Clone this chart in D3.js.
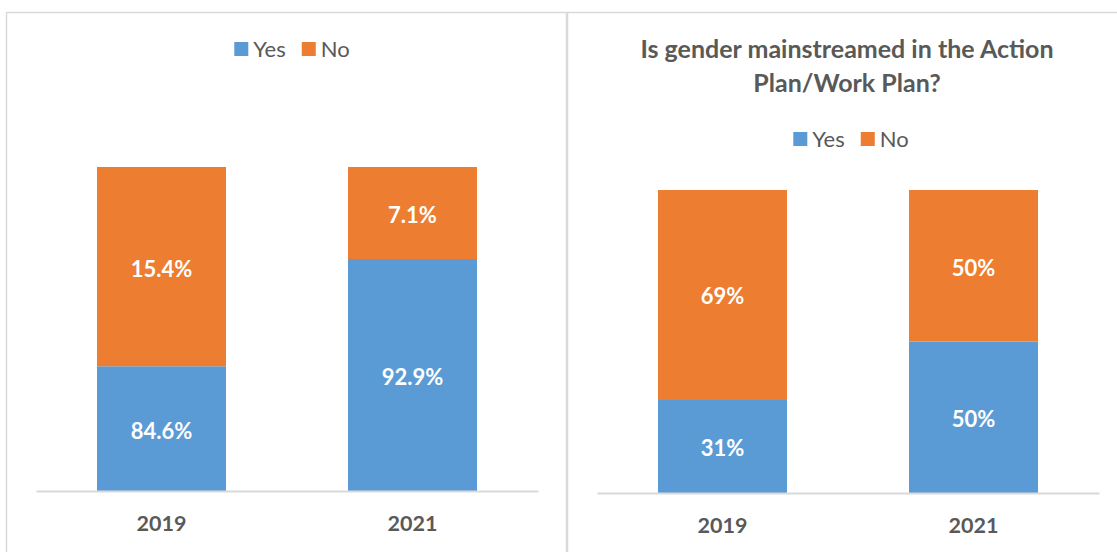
<!DOCTYPE html>
<html>
<head>
<meta charset="utf-8">
<script src="https://cdn.jsdelivr.net/npm/d3@7"></script>
<style>
  body { margin: 0; background: #fff; }
  svg { display: block; font-family: Lato, "Open Sans", sans-serif; }
</style>
</head>
<body>
<div class="container"></div>
<script>
const w = 1117;
const h = 552;

const years = ["2019", "2021"];
const keys = ["Yes", "No"];

// left chart: bar shares as drawn, and the labels printed on them
const leftYes = [38.5, 71.6];
const leftNo = [61.5, 28.4];
const leftYesLabels = ["84.6%", "92.9%"];
const leftNoLabels = ["15.4%", "7.1%"];

// right chart
const rightTitle = ["Is gender mainstreamed in the Action", "Plan/Work Plan?"];
const rightYes = [31, 50];
const rightNo = [69, 50];
const rightYesLabels = ["31%", "50%"];
const rightNoLabels = ["69%", "50%"];

const color = d3.scaleOrdinal().domain(keys).range(["#5B9BD5", "#ED7D31"]);
const grey = "#595959";
const border = "#D9D9D9";

const svg = d3.select('.container').append('svg')
    .attr('width', w)
    .attr('height', h);

// panel frames
svg.append('rect')
    .attr('x', 6.5).attr('y', 12.5)
    .attr('width', 560).attr('height', 600)
    .attr('fill', 'none').attr('stroke', border).attr('stroke-width', 1.5);
svg.append('rect')
    .attr('x', 567.5).attr('y', 12.5)
    .attr('width', 600).attr('height', 600)
    .attr('fill', 'none').attr('stroke', border).attr('stroke-width', 1.5);

drawPanel({
  x0: 36, x1: 538, top: 167, base: 491,
  legendX: 292, legendY: 49, labelY: 523,
  yes: leftYes, no: leftNo, yesLabels: leftYesLabels, noLabels: leftNoLabels
});

drawPanel({
  x0: 597, x1: 1099, top: 190, base: 493,
  legendX: 851, legendY: 139, labelY: 525,
  title: rightTitle, titleX: 847, titleY: 49,
  yes: rightYes, no: rightNo, yesLabels: rightYesLabels, noLabels: rightNoLabels
});

function drawPanel(p) {
  const g = svg.append('g');

  const rows = years.map((yr, i) => ({year: yr, Yes: p.yes[i], No: p.no[i], i: i}));
  const labels = {Yes: p.yesLabels, No: p.noLabels};
  const series = d3.stack().keys(keys)(rows);

  const x = d3.scaleBand()
      .domain(years)
      .range([p.x0, p.x1])
      .paddingInner(0.486)
      .paddingOuter(0.243);

  const y = d3.scaleLinear()
      .domain([0, 100])
      .range([p.base, p.top]);

  const layer = g.selectAll('.layer')
      .data(series)
      .enter().append('g')
      .attr('class', 'layer')
      .attr('fill', d => color(d.key));

  layer.selectAll('rect')
      .data(d => d)
      .enter().append('rect')
      .attr('x', d => x(d.data.year))
      .attr('width', x.bandwidth())
      .attr('y', d => y(d[1]))
      .attr('height', d => y(d[0]) - y(d[1]));

  layer.each(function(s) {
    d3.select(this).selectAll('text')
        .data(s)
        .enter().append('text')
        .attr('x', d => x(d.data.year) + x.bandwidth() / 2)
        .attr('y', d => (y(d[0]) + y(d[1])) / 2)
        .attr('dy', '0.45em')
        .attr('text-anchor', 'middle')
        .attr('fill', '#fff')
        .attr('font-weight', 'bold')
        .attr('font-size', 22)
        .text(d => labels[s.key][d.data.i]);
  });

  // category axis
  const axis = g.append('g')
      .attr('transform', `translate(0, ${p.base})`)
      .call(d3.axisBottom(x).tickSize(0).tickPadding(0));
  axis.select('.domain').attr('stroke', border).attr('stroke-width', 2);
  axis.selectAll('.tick text')
      .attr('y', p.labelY - p.base)
      .attr('dy', '0.38em')
      .attr('fill', grey)
      .attr('font-family', 'Lato, sans-serif')
      .attr('font-weight', 'bold')
      .attr('font-size', 21.5);

  // title
  if (p.title) {
    g.append('text')
        .attr('text-anchor', 'middle')
        .attr('fill', grey)
        .attr('font-weight', 'bold')
        .attr('font-size', 25)
        .selectAll('tspan')
        .data(p.title)
        .enter().append('tspan')
        .attr('x', p.titleX)
        .attr('y', (d, i) => p.titleY + i * 34)
        .attr('dy', '0.36em')
        .text(d => d);
  }

  // legend
  const leg = g.append('g');
  const items = leg.selectAll('g')
      .data(keys)
      .enter().append('g');
  items.append('rect')
      .attr('width', 14).attr('height', 14)
      .attr('y', -7)
      .attr('fill', d => color(d));
  items.append('text')
      .attr('x', 19)
      .attr('dy', '0.36em')
      .attr('fill', grey)
      .attr('font-size', 22)
      .text(d => d);
  let cx = 0;
  items.each(function() {
    const wd = 19 + this.querySelector('text').getComputedTextLength();
    d3.select(this).attr('transform', `translate(${cx}, 0)`);
    cx += wd + 16;
  });
  const total = cx - 16;
  leg.attr('transform', `translate(${p.legendX - total / 2}, ${p.legendY})`);
}
</script>
</body>
</html>
